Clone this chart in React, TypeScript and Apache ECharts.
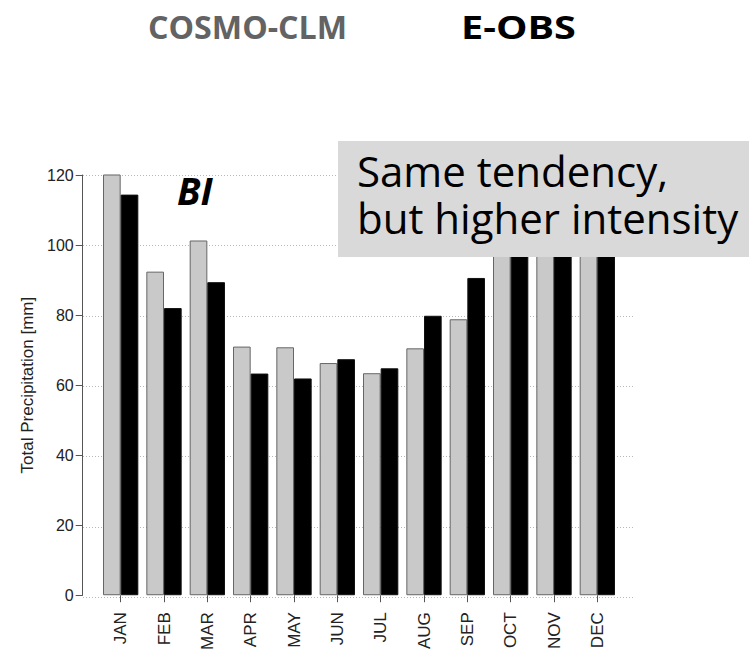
import React, { useEffect, useRef } from "react";
import * as echarts from "echarts";

const months = ["JAN", "FEB", "MAR", "APR", "MAY", "JUN", "JUL", "AUG", "SEP", "OCT", "NOV", "DEC"];
const cosmoClm = [120.6, 92.4, 101.3, 71.0, 70.8, 66.3, 63.4, 70.5, 78.8, 112, 118, 116];
const eObs = [114.4, 82.0, 89.4, 63.3, 61.9, 67.4, 64.8, 79.8, 90.6, 104, 108, 106];
const yTicks = [0, 20, 40, 60, 80, 100, 120];

const CAL = '"Open Sans", "Noto Sans", sans-serif';
const HELV = '"Liberation Sans", Arial, sans-serif';

export default function App() {
  const ref = useRef<HTMLDivElement>(null);
  useEffect(() => {
    if (!ref.current) return;
    const chart = echarts.init(ref.current, null, { renderer: "svg" });
    const yMin = yTicks[0];
    const yMax = yTicks[yTicks.length - 1];
    const yInterval = yTicks[1] - yTicks[0];
    chart.setOption({
      animation: false,
      backgroundColor: "#ffffff",
      grid: [
        { left: 99, width: 520, top: 175, height: 422.3 },
        { left: 83, width: 550, top: 175, height: 422.3 },
      ],
      xAxis: [
        {
          type: "category",
          gridIndex: 0,
          data: months,
          axisLine: { show: false },
          axisTick: { show: true, alignWithLabel: true, length: 7, lineStyle: { color: "#555", width: 1 } },
          axisLabel: { rotate: 90, margin: 17, fontFamily: HELV, fontSize: 17, color: "#222" },
          splitLine: { show: false },
        },
        { type: "value", gridIndex: 1, min: 0, max: 1, show: false },
      ],
      yAxis: [
        {
          type: "value",
          gridIndex: 0,
          min: yMin,
          max: yMax,
          interval: yInterval,
          offset: 16.3,
          name: "Total Precipitation [mm]",
          nameLocation: "middle",
          nameRotate: 90,
          nameGap: 41,
          nameTextStyle: { fontFamily: HELV, fontSize: 17, color: "#222" },
          axisLine: { show: true, lineStyle: { color: "#555", width: 1 } },
          axisTick: { show: true, length: 7, lineStyle: { color: "#555", width: 1 } },
          axisLabel: { margin: 9, fontFamily: HELV, fontSize: 16, color: "#222" },
          splitLine: { show: false },
        },
        {
          type: "value",
          gridIndex: 1,
          min: yMin,
          max: yMax,
          interval: yInterval,
          axisLine: { show: false },
          axisTick: { show: false },
          axisLabel: { show: false },
          splitLine: { show: true, lineStyle: { color: "#b8b8b8", type: [1, 2], width: 1 } },
        },
      ],
      series: [
        {
          name: "COSMO-CLM",
          type: "bar",
          xAxisIndex: 0,
          yAxisIndex: 0,
          data: cosmoClm,
          barGap: "0%",
          barCategoryGap: "18.5%",
          itemStyle: { color: "#c9c9c9", borderColor: "#666", borderWidth: 1 },
          z: 3,
        },
        {
          name: "E-OBS",
          type: "bar",
          xAxisIndex: 0,
          yAxisIndex: 0,
          data: eObs,
          barGap: "0%",
          barCategoryGap: "18.5%",
          itemStyle: { color: "#000000", borderColor: "#111", borderWidth: 1 },
          z: 3,
        },
      ],
      graphic: [
        {
          type: "text",
          x: 148,
          y: 26,
          scaleX: 0.975,
          z: 10,
          style: { text: "COSMO-CLM", font: `bold 33px ${CAL}`, fill: "#636363", verticalAlign: "middle" },
        },
        {
          type: "text",
          x: 461,
          y: 26,
          scaleX: 1.2,
          z: 10,
          style: { text: "E-OBS", font: `bold 33px ${CAL}`, fill: "#000000", verticalAlign: "middle" },
        },
        {
          type: "text",
          x: 177,
          y: 190,
          z: 10,
          style: { text: "BI", font: `italic bold 38px ${CAL}`, fill: "#000000", verticalAlign: "middle" },
        },
        {
          type: "rect",
          z: 20,
          shape: { x: 338, y: 141, width: 411, height: 116 },
          style: { fill: "#d9d9d9" },
        },
        {
          type: "text",
          x: 357,
          y: 147,
          z: 21,
          style: {
            text: "Same tendency,\nbut higher intensity",
            font: `42px ${CAL}`,
            lineHeight: 47,
            fill: "#000000",
            verticalAlign: "top",
          },
        },
      ],
    });
    return () => chart.dispose();
  }, []);
  return (
    <div
      ref={ref}
      style={{ position: "fixed", left: 0, top: 0, width: 749, height: 653, background: "#fff" }}
    />
  );
}
